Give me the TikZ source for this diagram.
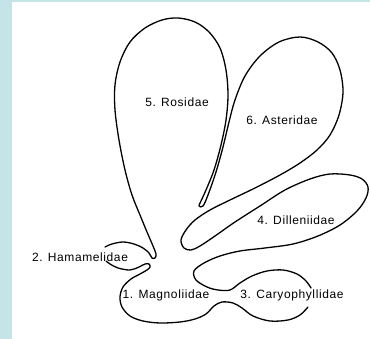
\documentclass[tikz,border=0pt]{standalone}
\usepackage{fontspec}
\newfontfamily\lab{Liberation Sans}[LetterSpace=5]
\definecolor{bluebg}{HTML}{C4E4E8}
\begin{document}
\begin{tikzpicture}[x=1pt,y=-1pt,
  outline/.style={line width=1.3pt, line join=round, line cap=round},
  lbl/.style={font=\lab\fontsize{12}{14}\selectfont, inner sep=0pt}]
\useasboundingbox (0,0) rectangle (370,339);
\fill[white] (0,0) rectangle (370,339);
\fill[bluebg] (0,0) rectangle (12,339);
\fill[bluebg] (0,0) rectangle (370,2);

% main outline: Hamamelidae top arc, Rosidae, Asteridae, Dilleniidae, Caryophyllidae top
\draw[outline] plot[smooth, tension=0.55] coordinates {
 (105,247) (112,244) (123,242) (134,244) (143,248) (149,253) (152,258) (155,258) (156,254)
 (153,246) (147,232) (140,215) (132,195) (125,170) (119,140) (115,110) (115,85) (120,62)
 (130,42) (145,28) (162,20) (178,18) (195,22) (209,32) (220,48) (226,70) (228,95) (226,120)
 (221,145) (214,170) (206,190) (201,201) (199,206) (203,206) (208,195) (216,172) (223,147)
 (229,122) (235,100) (245,76) (260,56) (279,42) (300,37) (318,42) (332,53) (340,70) (343,92)
 (339,115) (330,135) (317,150) (300,163) (280,175) (255,188) (230,200) (210,210) (195,220)
 (186,230) (181,240) (184,248) (191,250) (200,246) (215,236) (235,222) (260,206) (285,190)
 (310,179) (330,174) (350,175) (362,179) (368,187) (366,198) (357,211) (340,225) (318,236)
 (293,244) (265,248) (240,251) (220,256) (204,263) (194,271) (196,280) (207,287) (218,290)
 (230,290) (240,283) (252,276) (267,271) (283,270) (297,274) (306,281) (311,288)};

% Caryophyllidae bottom, Magnoliidae, Hamamelidae bottom arc
\draw[outline] plot[smooth, tension=0.55] coordinates {
 (308,307) (300,315) (288,320) (270,321) (253,316) (242,308) (233,303) (222,302) (214,306)
 (206,314) (195,319) (180,322) (160,323) (143,321) (130,316) (122,307) (120,297) (123,287)
 (131,279) (140,274) (147,270) (150,267) (149,264) (145,264) (139,267) (130,270) (118,268)
 (110,264) (106,261)};

\node[lbl] (ros) at (177,102) {5. Rosidae};
\node[lbl] (ast) at (282,120) {6. Asteridae};
\node[lbl] (dil) at (296,220) {4. Dilleniidae};
\node[lbl] (ham) at (80,257) {2. Hamamelidae};
\node[lbl] (mag) at (166,295) {1. Magnoliidae};
\node[lbl] (car) at (292,295) {3. Caryophyllidae};
\end{tikzpicture}
\end{document}
